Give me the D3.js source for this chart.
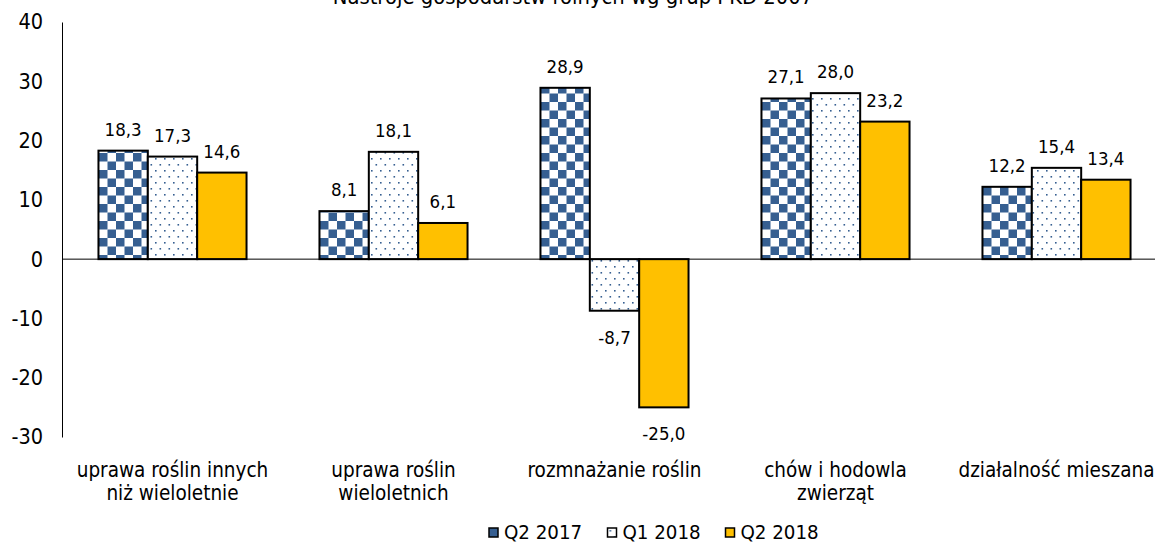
<!DOCTYPE html>
<html><head><meta charset="utf-8">
<script src="https://cdn.jsdelivr.net/npm/d3@7"></script>
<style>body{margin:0;background:#fff}svg{display:block}text{font-family:"DejaVu Sans Condensed","DejaVu Sans",sans-serif;fill:#000}</style>
</head><body><svg id="c" width="1155" height="544"></svg>
<script>
const title = "Nastroje gospodarstw rolnych wg grup PKD 2007";
const categories = [["uprawa roślin innych","niż wieloletnie"],["uprawa roślin","wieloletnich"],["rozmnażanie roślin"],["chów i hodowla","zwierząt"],["działalność mieszana"]];
const seriesNames = ["Q2 2017","Q1 2018","Q2 2018"];
const q2_2017 = [18.3, 8.1, 28.9, 27.1, 12.2];
const q1_2018 = [17.3, 18.1, -8.7, 28.0, 15.4];
const q2_2018 = [14.6, 6.1, -25.0, 23.2, 13.4];
const yTicks = [40,30,20,10,0,-10,-20,-30];
const series = [q2_2017, q1_2018, q2_2018];

const svg = d3.select("#c");
const defs = svg.append("defs");
const blue = "#365F91";
const pc = defs.append("pattern").attr("id","chk").attr("patternUnits","userSpaceOnUse").attr("width",17).attr("height",17).attr("x",99).attr("y",0);
pc.append("rect").attr("width",17).attr("height",17).attr("fill","#fff");
pc.append("rect").attr("width",8.5).attr("height",8.5).attr("fill",blue);
pc.append("rect").attr("x",8.5).attr("y",8.5).attr("width",8.5).attr("height",8.5).attr("fill",blue);
const pd = defs.append("pattern").attr("id","dot").attr("patternUnits","userSpaceOnUse").attr("width",9).attr("height",12);
pd.append("rect").attr("width",9).attr("height",12).attr("fill","#fff");
pd.append("rect").attr("x",2).attr("y",2).attr("width",1.6).attr("height",1.6).attr("fill",blue);
pd.append("rect").attr("x",6.5).attr("y",8).attr("width",1.6).attr("height",1.6).attr("fill",blue);
const fills = ["url(#chk)","url(#dot)","#FFC000"];

const x0 = d3.scaleBand().domain(d3.range(categories.length)).range([62,1167]).paddingInner(0.33).paddingOuter(0.165);
const x1 = d3.scaleBand().domain(d3.range(3)).range([0,x0.bandwidth()]);
const y = d3.scaleLinear().domain([-30,40]).range([437,22]);

svg.append("text").attr("x",573).attr("y",4).attr("text-anchor","middle").style("font-size","21.8px").text(title);

const ax = svg.append("g").attr("transform","translate(62,0)").call(d3.axisLeft(y).tickValues(yTicks).tickSize(0).tickPadding(19).tickFormat(d=>d));
ax.select(".domain").attr("stroke","#000").attr("stroke-width",1);
ax.selectAll("text").style("font-size","21.5px").style("font-family",'"DejaVu Sans Condensed","DejaVu Sans",sans-serif');

series.forEach((s,si)=>{
  svg.append("g").selectAll("rect").data(s).join("rect")
    .attr("x",(d,i)=>x0(i)+x1(si))
    .attr("y",d=>y(Math.max(0,d)))
    .attr("width",x1.bandwidth())
    .attr("height",d=>Math.abs(y(d)-y(0)))
    .attr("fill",fills[si]).attr("stroke","#000").attr("stroke-width",2);
  svg.append("g").selectAll("text").data(s).join("text")
    .attr("x",(d,i)=>x0(i)+x1(si)+x1.bandwidth()/2)
    .attr("y",d=>d>=0 ? y(d)-15 : y(d)+33)
    .attr("text-anchor","middle").style("font-size","18.5px")
    .text(d=>d.toFixed(1).replace(".",","));
});

svg.append("line").attr("x1",62).attr("x2",1155).attr("y1",y(0)).attr("y2",y(0)).attr("stroke","#000").attr("stroke-width",1);

categories.forEach((lines,i)=>{
  const cx = x0(i)+x0.bandwidth()/2;
  const t = svg.append("text").attr("x",cx).attr("y",477).attr("text-anchor","middle").style("font-size","20.5px");
  lines.forEach((l,j)=>t.append("tspan").attr("x",cx).attr("dy",j?23:0).text(l));
});

const lx = [489, 607.5, 725.5];
seriesNames.forEach((n,i)=>{
  const g = svg.append("g").attr("transform",`translate(${lx[i]},528)`);
  g.append("rect").attr("x",0).attr("y",0).attr("width",9).attr("height",9).attr("fill",i===0?blue:i===1?"url(#dot)":"#FFC000").attr("stroke","#000").attr("stroke-width",1.5);
  g.append("text").attr("x",15).attr("y",11).style("font-size","20.3px").text(n);
});
</script></body></html>
